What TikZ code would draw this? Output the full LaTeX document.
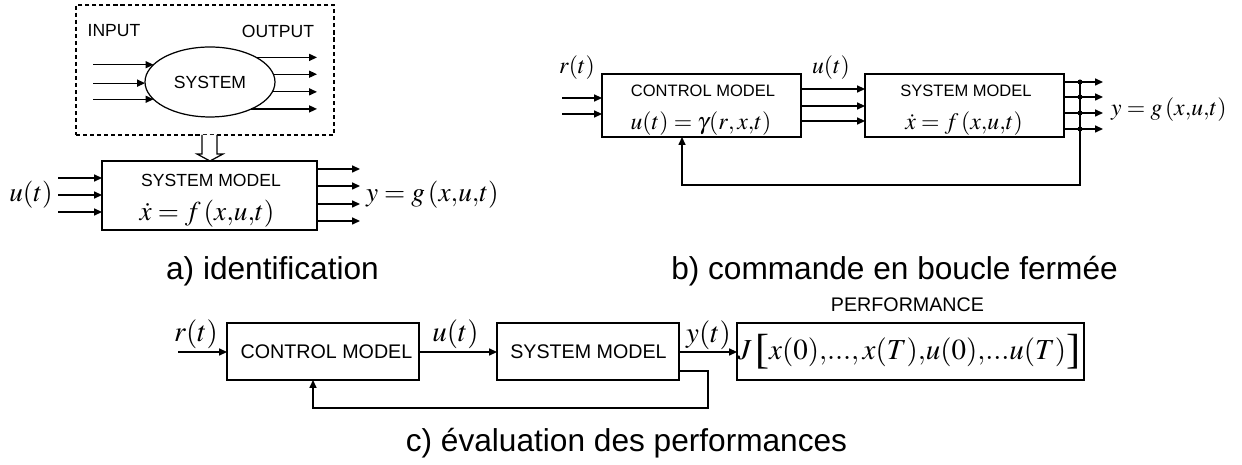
\documentclass[tikz,border=0pt]{standalone}
\usepackage{mathptmx}
\usepackage[no-math]{fontspec}
\setmainfont{Liberation Sans}
\newfontfamily\brkfont{Liberation Serif}
\usetikzlibrary{arrows.meta,shapes.geometric}
\newcommand\szA{\fontsize{10}{12}\selectfont}
\newcommand\szB{\fontsize{9.4}{11}\selectfont}
\newcommand\szC{\fontsize{11.2}{13}\selectfont}
\newcommand\szCap{\fontsize{18}{21}\selectfont}
\newcommand\mszA{\fontsize{15.5}{18}\selectfont}
\newcommand\mszB{\fontsize{13.5}{16}\selectfont}
\newcommand\mszC{\fontsize{16.5}{19}\selectfont}
\newcommand\cm{{,}}
\newcommand\lbrk{\mathopen{\raisebox{-2.2pt}{\brkfont\fontsize{24}{24}\selectfont[}}}
\newcommand\rbrk{\mathclose{\raisebox{-2.2pt}{\brkfont\fontsize{24}{24}\selectfont]}}}
\tikzset{
  box/.style={draw, line width=0.7pt, inner sep=0pt, outer sep=0pt},
  lbl/.style={inner sep=0pt, outer sep=0pt},
  arr/.style={line width=0.7pt, -{Triangle[length=4.5pt,width=4pt]}},
  ln/.style={line width=0.7pt},
  dotn/.style={circle, fill, inner sep=0pt, outer sep=0pt, minimum size=0.1cm},
}
\begin{document}
\begin{tikzpicture}[x=0.02cm,y=-0.02cm]
\path[use as bounding box] (0,0) rectangle (1242,465);

% ---------- a) identification ----------
\node[box, dash pattern=on 2.3pt off 1.7pt, minimum width=5.16cm, minimum height=2.6cm] (dbox) at (205,70) {};
\node[lbl, font=\szA] (inlbl) at (114,31) {INPUT};
\node[lbl, font=\szA] (outlbl) at (278,31) {OUTPUT};
\node[box, ellipse, minimum width=2.6cm, minimum height=1.4cm, font=\szA] (sysE) at (210,82) {SYSTEM};
\coordinate (ia) at (93,0);
\draw[arr] (sysE.163.3 -| ia) -- (sysE.163.3);
\draw[arr] (sysE.181 -| ia) -- (sysE.181);
\draw[arr] (sysE.197.9 -| ia) -- (sysE.197.9);
\coordinate (oa) at (317,0);
\draw[arr] (sysE.28.8) -- (sysE.28.8 -| oa);
\draw[arr] (sysE.7.2) -- (sysE.7.2 -| oa);
\draw[arr] (sysE.-9.1) -- (sysE.-9.1 -| oa);
\draw[arr] (sysE.-33.1) -- (sysE.-33.1 -| oa);

\node[box, minimum width=4.3cm, minimum height=1.38cm] (sysA) at (209.5,195.5) {};
\draw[ln, fill=white] (202,135) -- (202,154) -- (197,154) -- (210,161) -- (223,154) -- (217,154) -- (217,135);
\node[lbl, font=\szA] (sysAt) at (211,180) {SYSTEM MODEL};
\node[lbl, font=\mszA] (sysAeq) at (207,214) {$\dot{x}=f\,(x\cm u\cm t)$};
\coordinate (ua1) at (58,178);
\coordinate (ua2) at (58,195);
\coordinate (ua3) at (58,212);
\draw[arr] (ua1) -- (ua1 -| sysA.west);
\draw[arr] (ua2) -- (ua2 -| sysA.west);
\draw[arr] (ua3) -- (ua3 -| sysA.west);
\node[lbl, font=\mszA] (uA) at (31,195) {$u(t)$};
\coordinate (ya1) at (360,169);
\coordinate (ya2) at (360,186);
\coordinate (ya3) at (360,204);
\coordinate (ya4) at (360,221);
\draw[arr] (ya1 -| sysA.east) -- (ya1);
\draw[arr] (ya2 -| sysA.east) -- (ya2);
\draw[arr] (ya3 -| sysA.east) -- (ya3);
\draw[arr] (ya4 -| sysA.east) -- (ya4);
\node[lbl, font=\mszA, anchor=west] (yA) at (366,195) {$y=g\,(x\cm u\cm t)$};
\node[lbl, font=\szCap, anchor=base] (capA) at (272.5,280) {a) identification};

% ---------- b) commande en boucle fermee ----------
\node[lbl, font=\mszB] (rB) at (577,68) {$r(t)$};
\node[box, minimum width=3.98cm, minimum height=1.26cm] (ctrlB) at (701.5,105.5) {};
\node[lbl, font=\szB] (ctrlBt) at (703,91) {CONTROL MODEL};
\node[lbl, font=\mszB] (ctrlBeq) at (701,124) {$u(t)=\gamma(r\cm\, x\cm t)$};
\coordinate (rb1) at (562,98);
\coordinate (rb2) at (562,114);
\draw[arr] (rb1) -- (rb1 -| ctrlB.west);
\draw[arr] (rb2) -- (rb2 -| ctrlB.west);
\node[box, minimum width=3.98cm, minimum height=1.26cm] (sysB) at (964.5,105.5) {};
\node[lbl, font=\szB] (sysBt) at (966,91) {SYSTEM MODEL};
\node[lbl, font=\mszB] (sysBeq) at (964,124) {$\dot{x}=f\,(x\cm u\cm t)$};
\coordinate (ub1) at (833,89);
\coordinate (ub2) at (833,106);
\coordinate (ub3) at (833,121);
\draw[arr] (ub1 -| ctrlB.east) -- (ub1 -| sysB.west);
\draw[arr] (ub2 -| ctrlB.east) -- (ub2 -| sysB.west);
\draw[arr] (ub3 -| ctrlB.east) -- (ub3 -| sysB.west);
\node[lbl, font=\mszB] (uB) at (831,68) {$u(t)$};
\coordinate (yb1) at (1103,82);
\coordinate (yb2) at (1103,97);
\coordinate (yb3) at (1103,113);
\coordinate (yb4) at (1103,129);
\draw[arr] (yb1 -| sysB.east) -- (yb1);
\draw[arr] (yb2 -| sysB.east) -- (yb2);
\draw[arr] (yb3 -| sysB.east) -- (yb3);
\draw[arr] (yb4 -| sysB.east) -- (yb4);
\coordinate (fbb1) at (1080,185);
\coordinate (fbb2) at (682,185);
\node[dotn] (d1) at (1080,82) {};
\node[dotn] (d2) at (1080,97) {};
\node[dotn] (d3) at (1080,113) {};
\node[dotn] (d4) at (1080,129) {};
\draw[arr] (d1.center) -- (fbb1) -- (fbb2) -- (fbb2 |- ctrlB.south);
\node[lbl, font=\mszB, anchor=west] (yB) at (1111,110) {$y=g\,(x\cm u\cm t)$};
\node[lbl, font=\szCap, anchor=base] (capB) at (894.5,280) {b) commande en boucle fermée};

% ---------- c) evaluation des performances ----------
\node[lbl, font=\mszC] (rC) at (196,334) {$r(t)$};
\node[box, minimum width=3.84cm, minimum height=1.14cm] (ctrlC) at (323,351.5) {};
\node[lbl, font=\szC] (ctrlCt) at (326.5,352) {CONTROL MODEL};
\node[box, minimum width=6.94cm, minimum height=1.14cm] (perfC) at (910.5,351.5) {};
\node[box, minimum width=3.64cm, minimum height=1.14cm] (sysC) at (588,351.5) {};
\node[lbl, font=\szC] (sysCt) at (588.5,352) {SYSTEM MODEL};
\node[lbl, font=\mszC] (perfCeq) at (909,352) {$J\,\lbrk x(0)\cm...\cm\,x(T)\cm u(0)\cm...u(T)\rbrk$};
\node[lbl, font=\szC] (perfClbl) at (907.5,305) {PERFORMANCE};
\coordinate (rc) at (178,352);
\draw[arr] (rc) -- (rc -| ctrlC.west);
\coordinate (uc) at (455,352);
\draw[arr] (uc -| ctrlC.east) -- (uc -| sysC.west);
\node[lbl, font=\mszC] (uC) at (455.5,334) {$u(t)$};
\coordinate (yc) at (708,352);
\draw[arr] (yc -| sysC.east) -- (yc -| perfC.west);
\node[lbl, font=\mszC] (yC) at (708.5,335) {$y(t)$};
\coordinate (fbc1) at (708,371);
\coordinate (fbc2) at (708,408);
\coordinate (fbc3) at (313,408);
\draw[arr] (fbc1 -| sysC.east) -- (fbc1) -- (fbc2) -- (fbc3) -- (fbc3 |- ctrlC.south);
\node[lbl, font=\szCap, anchor=base] (capC) at (626.5,452) {c) évaluation des performances};
\end{tikzpicture}
\end{document}
